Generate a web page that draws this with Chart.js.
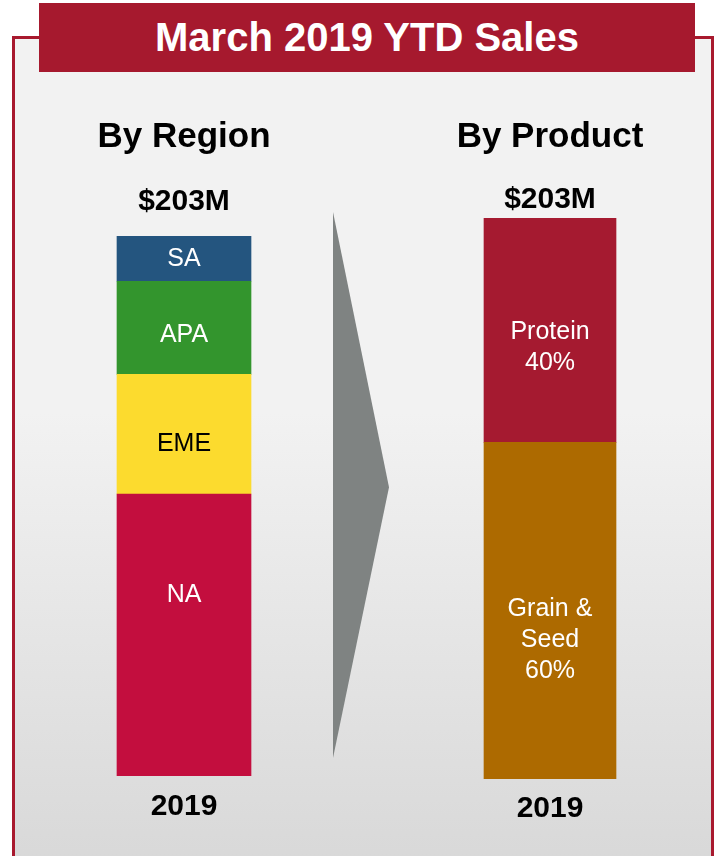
<!DOCTYPE html>
<html>
<head>
<meta charset="utf-8">
<script src="https://cdn.jsdelivr.net/npm/chart.js@4.4.0/dist/chart.umd.min.js"></script>
<style>
  body {
    margin: 0;
    width: 716px;
    height: 856px;
    background: #fff;
    position: relative;
    overflow: hidden;
    font-family: "Liberation Sans", Arial, sans-serif;
  }
  #panel {
    position: absolute;
    left: 12px;
    top: 36px;
    width: 696px;
    height: 830px;
    border: 3px solid #a8192e;
    background: linear-gradient(#f2f2f2 0%, #f2f2f2 45%, #d8d8d8 100%);
  }
  #banner {
    position: absolute;
    left: 39px;
    top: 3px;
    width: 656px;
    height: 69px;
    background: #a6192e;
    color: #fff;
    font-weight: bold;
    font-size: 40px;
    line-height: 69px;
    text-align: center;
  }
  #arrow {
    position: absolute;
    left: 333px;
    top: 212px;
    width: 56px;
    height: 546px;
    background: #7f8382;
    clip-path: polygon(0 0, 100% 50.4%, 0 100%);
  }
  #regionChart { position: absolute; left: 84px; top: 116px; }
  #productChart { position: absolute; left: 430px; top: 116px; }
</style>
</head>
<body>
<div id="panel"></div>
<div id="banner">March 2019 YTD Sales</div>
<div id="arrow"></div>
<canvas id="regionChart" width="200" height="722"></canvas>
<canvas id="productChart" width="240" height="723"></canvas>

<script>
// data
const years = ["2019"];
const totalLabel = "$203M";

const regionNames = ["NA", "EME", "APA", "SA"];
const regionSales = [106, 45, 35, 17]; // $M, bottom to top

const productNames = [["Grain &", "Seed"], ["Protein"]];
const productShare = [60, 40]; // %, bottom to top

// styles
const regionColors = ["#c30e3e", "#fcdb2e", "#33952d", "#24557f"];
const regionTextColors = ["#fff", "#000", "#fff", "#fff"];
const regionLabelShift = [-40, 10, 7, 0];

const productColors = ["#ad6a00", "#a51a30"];
const productTextColors = ["#fff", "#fff"];
const productLabelShift = [29, 17];

Chart.defaults.font.family = '"Liberation Sans", Arial, sans-serif';

const segmentLabels = {
  id: "segmentLabels",
  afterDatasetsDraw(chart) {
    const ctx = chart.ctx;
    ctx.save();
    ctx.font = "25px " + Chart.defaults.font.family;
    ctx.textAlign = "center";
    ctx.textBaseline = "middle";
    chart.data.datasets.forEach((ds, i) => {
      const bar = chart.getDatasetMeta(i).data[0];
      const lines = ds.labelLines;
      const lineH = 31;
      const mid = (bar.y + bar.base) / 2 + ds.labelShift;
      const startY = mid - (lines.length - 1) * lineH / 2;
      ctx.fillStyle = ds.labelColor;
      lines.forEach((line, k) => ctx.fillText(line, bar.x, startY + k * lineH));
    });
    ctx.restore();
  }
};

function createStackChart(id, title, datasets, max, layout) {
  return new Chart(document.getElementById(id), {
    type: "bar",
    data: { labels: years, datasets },
    options: {
      responsive: false,
      animation: false,
      layout: { padding: 0 },
      datasets: { bar: { barThickness: layout.barWidth } },
      plugins: {
        legend: { display: false },
        tooltip: { enabled: false },
        title: {
          display: true,
          text: title,
          color: "#000",
          font: { size: 35, weight: "bold" },
          padding: { top: 0, bottom: layout.titleGap }
        },
        subtitle: {
          display: true,
          text: totalLabel,
          color: "#000",
          font: { size: 30, weight: "bold" },
          padding: { top: 0, bottom: layout.subGap }
        }
      },
      scales: {
        x: {
          stacked: true,
          grid: { display: false, drawTicks: false },
          border: { display: false },
          ticks: { color: "#000", padding: layout.tickPad, font: { size: 30, weight: "bold" } }
        },
        y: {
          stacked: true,
          display: false,
          min: 0,
          max: max
        }
      }
    },
    plugins: [segmentLabels]
  });
}

const regionDatasets = regionNames.map((name, i) => ({
  label: name,
  data: [regionSales[i]],
  backgroundColor: regionColors[i],
  labelLines: [name],
  labelColor: regionTextColors[i],
  labelShift: regionLabelShift[i]
}));

const productDatasets = productNames.map((name, i) => ({
  label: name.join(" "),
  data: [productShare[i]],
  backgroundColor: productColors[i],
  labelLines: [...name, productShare[i] + "%"],
  labelColor: productTextColors[i],
  labelShift: productLabelShift[i]
}));

createStackChart("regionChart", "By Region", regionDatasets,
  regionSales.reduce((a, b) => a + b, 0),
  { barWidth: 134, titleGap: 26, subGap: 16, tickPad: 13 });

createStackChart("productChart", "By Product", productDatasets,
  productShare.reduce((a, b) => a + b, 0),
  { barWidth: 132, titleGap: 24, subGap: 0, tickPad: 12 });
</script>
</body>
</html>
